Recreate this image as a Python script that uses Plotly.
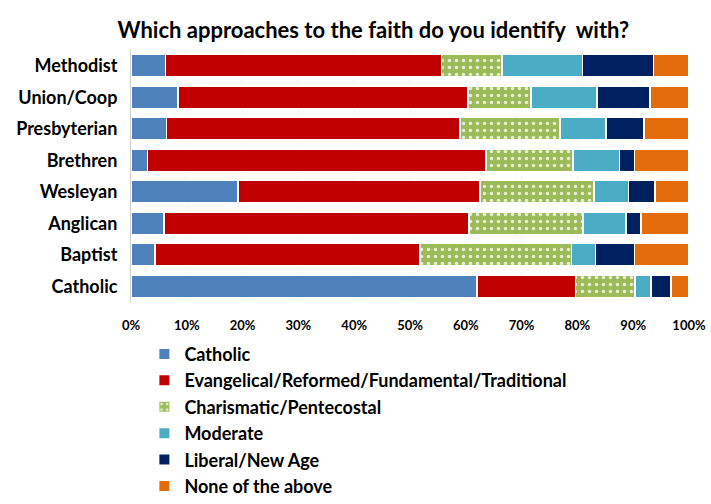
import plotly.graph_objects as go

denominations = ["Methodist", "Union/Coop", "Presbyterian", "Brethren",
                 "Wesleyan", "Anglican", "Baptist", "Catholic"]
series_names = ["Catholic", "Evangelical/Reformed/Fundamental/Traditional",
                "Charismatic/Pentecostal", "Moderate", "Liberal/New Age",
                "None of the above"]
catholic = [6.2, 8.4, 6.4, 3.0, 19.2, 5.9, 4.3, 62.0]
evangelical = [49.4, 52.0, 52.6, 60.6, 43.3, 54.7, 47.5, 17.7]
charismatic = [10.9, 11.3, 17.9, 15.6, 20.5, 20.4, 27.1, 10.6]
moderate = [14.4, 11.8, 8.2, 8.3, 6.2, 7.7, 4.3, 2.9]
liberal = [12.7, 9.5, 6.8, 2.7, 4.7, 2.7, 7.0, 3.6]
none_above = [6.4, 7.0, 8.1, 9.8, 6.1, 8.6, 9.8, 3.2]
tick_vals = [0, 10, 20, 30, 40, 50, 60, 70, 80, 90, 100]
tick_text = ["0%", "10%", "20%", "30%", "40%", "50%", "60%", "70%", "80%", "90%", "100%"]

colors = ["#4F81BD", "#C00000", "#9BBB59", "#4BACC6", "#002060", "#E46C0A"]
values = [catholic, evangelical, charismatic, moderate, liberal, none_above]

FONT = "Lato"

fig = go.Figure()
for name, vals, col in zip(series_names, values, colors):
    marker = dict(color=col, line=dict(color="white", width=1.5))
    if name == "Charismatic/Pentecostal":
        marker["pattern"] = dict(shape=".", fgcolor="#E6EFD4", bgcolor=col,
                                 size=7, solidity=0.2, fillmode="replace")
    fig.add_trace(go.Bar(
        y=denominations, x=vals, name=name, orientation="h",
        marker=marker, width=0.7,
    ))

fig.update_layout(
    barmode="stack",
    width=711, height=504,
    paper_bgcolor="white", plot_bgcolor="white",
    margin=dict(l=131, r=22, t=50, b=202, autoexpand=False),
    title=dict(text="<b>Which approaches to the faith do you identify  with?</b>",
               x=0.525, xanchor="center", y=0.94, yanchor="middle",
               font=dict(family=FONT, size=22, color="black")),
    font=dict(family=FONT, color="black"),
    legend=dict(orientation="v", x=0.024, xanchor="left", y=-0.134, yanchor="top",
                traceorder="normal",
                font=dict(family=FONT, size=18, color="black", weight="bold"),
                itemsizing="constant", tracegroupgap=0, bgcolor="rgba(0,0,0,0)"),
    showlegend=True,
)
fig.update_xaxes(range=[0, 100], tickvals=tick_vals, ticktext=tick_text,
                 showgrid=True, gridcolor="#EFEFEF", griddash="dot", gridwidth=1,
                 zeroline=False, showline=False, automargin=False,
                 tickfont=dict(family=FONT, size=13, color="black", weight="bold"),
                 ticklabelstandoff=14)
fig.update_yaxes(categoryorder="array", categoryarray=denominations, autorange="reversed",
                 showline=True, linecolor="#D0D0D0", linewidth=1,
                 showgrid=False, zeroline=False, automargin=False,
                 tickfont=dict(family=FONT, size=18, color="black", weight="bold"),
                 ticklabelstandoff=9)

fig.write_html("out.html", config={"displayModeBar": False},
               post_script="document.body.style.margin='0px';")
